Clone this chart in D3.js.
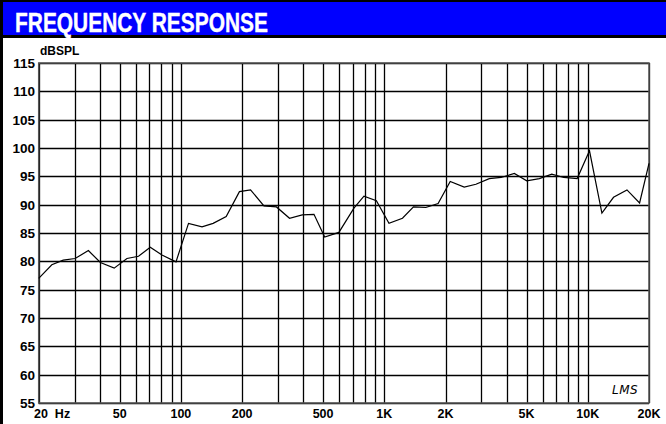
<!DOCTYPE html>
<html>
	<head>
		<meta charset="utf-8">
		<script src="https://cdnjs.cloudflare.com/ajax/libs/d3/7.8.5/d3.min.js" charset="utf-8"></script>
		<style>
			body {
				margin: 0;
				background: #fff;
				font-family: 'Liberation Sans', Arial, sans-serif;
			}
		</style>
	</head>
	<body>

		<div id="chart"></div>

		<script>

			//////////////////////////////// Data //////////////////////////////
			var freqs = [20, 23.2, 26.4, 30.2, 35.1, 40.2, 47, 54.3, 61.9, 70.7, 80.7, 94.6,
				109, 127, 144, 167, 194, 220, 256, 295, 342, 395, 451, 509, 598, 709, 794, 914,
				1054, 1228, 1391, 1599, 1838, 2108, 2470, 2820, 3280, 3746, 4356, 5012, 5782,
				6654, 7621, 8870, 10198, 11736, 13385, 15587, 17981, 20000];
			var spl = [77.0, 79.4, 80.2, 80.5, 81.9, 79.8, 78.8, 80.5, 80.9, 82.5, 81.1, 79.9,
				86.7, 86.1, 86.7, 87.9, 92.3, 92.6, 89.8, 89.6, 87.6, 88.2, 88.3, 84.3, 85.1, 89.4, 91.5, 90.7,
				86.7, 87.6, 89.6, 89.5, 90.2, 94.1, 93.1, 93.6, 94.6, 94.8, 95.5, 94.2, 94.6,
				95.4, 94.8, 94.6, 99.5, 88.5, 91.3, 92.6, 90.3, 97.3];

			var gridFreqs = [20, 30, 40, 50, 60, 70, 80, 90, 100, 200, 300, 400, 500, 600, 700, 800, 900,
				1000, 2000, 3000, 4000, 5000, 6000, 7000, 8000, 9000, 10000, 20000];
			var xLabelFreqs = [20, 50, 100, 200, 500, 1000, 2000, 5000, 10000, 20000];
			var xLabels = ["20  Hz", "50", "100", "200", "500", "1K", "2K", "5K", "10K", "20K"];
			var yTicks = [55, 60, 65, 70, 75, 80, 85, 90, 95, 100, 105, 110, 115];

			var W = 666, H = 424;
			var plot = {left: 38.7, right: 649, top: 63, bottom: 403};

			var svg = d3.select("#chart").append("svg")
				.attr("width", W)
				.attr("height", H);

			var x = d3.scaleLog().domain([20, 20000]).range([plot.left, plot.right]);
			var y = d3.scaleLinear().domain([55, 115]).range([plot.bottom, plot.top]);

			//Header bar
			svg.append("rect").attr("x", 0).attr("y", 0).attr("width", W).attr("height", 2).style("fill", "#000");
			svg.append("rect").attr("x", 0).attr("y", 0).attr("width", 3).attr("height", H).style("fill", "#000");
			svg.append("rect").attr("x", 3).attr("y", 2).attr("width", W - 3).attr("height", 33).style("fill", "#0000ff");
			svg.append("rect").attr("x", 3).attr("y", 35).attr("width", W - 3).attr("height", 3).style("fill", "#000");

			svg.append("text")
				.attr("x", 15).attr("y", 32)
				.attr("textLength", 253)
				.attr("lengthAdjust", "spacingAndGlyphs")
				.style("font-size", "27px")
				.style("font-weight", "bold")
				.style("fill", "#fff")
				.style("stroke", "#fff")
				.style("stroke-width", 0.4)
				.text("FREQUENCY RESPONSE");

			//Grid
			var grid = svg.append("g");
			grid.selectAll(".hgrid")
				.data(yTicks)
				.enter().append("line")
				.attr("x1", plot.left).attr("x2", plot.right)
				.attr("y1", function(d) { return Math.round(y(d)) + 0.5; })
				.attr("y2", function(d) { return Math.round(y(d)) + 0.5; })
				.style("stroke", "#000")
				.style("stroke-width", 1.3);

			grid.selectAll(".vgrid")
				.data(gridFreqs)
				.enter().append("line")
				.attr("x1", function(d) { return Math.round(x(d)) + 0.5; })
				.attr("x2", function(d) { return Math.round(x(d)) + 0.5; })
				.attr("y1", plot.top).attr("y2", plot.bottom)
				.style("stroke", "#000")
				.style("stroke-width", 1.3);

			//Frame
			svg.append("rect")
				.attr("x", plot.left).attr("y", plot.top)
				.attr("width", plot.right - plot.left).attr("height", plot.bottom - plot.top)
				.style("fill", "none")
				.style("stroke", "#555")
				.style("stroke-width", 1.5);

			//Axis labels
			svg.selectAll(".ylab")
				.data(yTicks)
				.enter().append("text")
				.attr("x", 35)
				.attr("y", function(d) { return y(d) + 5; })
				.attr("text-anchor", "end")
				.style("font-size", "13.5px")
				.style("font-weight", "bold")
				.text(function(d) { return d; });

			svg.selectAll(".xlab")
				.data(xLabelFreqs)
				.enter().append("text")
				.attr("x", function(d, i) { return i === 0 ? 34 : x(d); })
				.attr("y", 418)
				.attr("text-anchor", function(d, i) { return i === 0 ? "start" : "middle"; })
				.style("font-size", "12.5px")
				.style("font-weight", "bold")
				.style("white-space", "pre")
				.attr("xml:space", "preserve")
				.text(function(d, i) { return xLabels[i]; });

			svg.append("text")
				.attr("x", 40).attr("y", 55)
				.style("font-size", "12px")
				.style("font-weight", "bold")
				.text("dBSPL");

			//Response curve
			var line = d3.line()
				.x(function(d, i) { return x(freqs[i]); })
				.y(function(d) { return y(d); });

			svg.append("path")
				.datum(spl)
				.attr("d", line)
				.style("fill", "none")
				.style("stroke", "#000")
				.style("stroke-width", 1.2);

			//Logo
			svg.append("text")
				.attr("x", 612).attr("y", 394)
				.style("font-family", "'DejaVu Sans', sans-serif")
				.style("font-style", "italic")
				.style("font-size", "12px")
				.style("letter-spacing", "0.5px")
				.text("LMS");

		</script>

	</body>
</html>
